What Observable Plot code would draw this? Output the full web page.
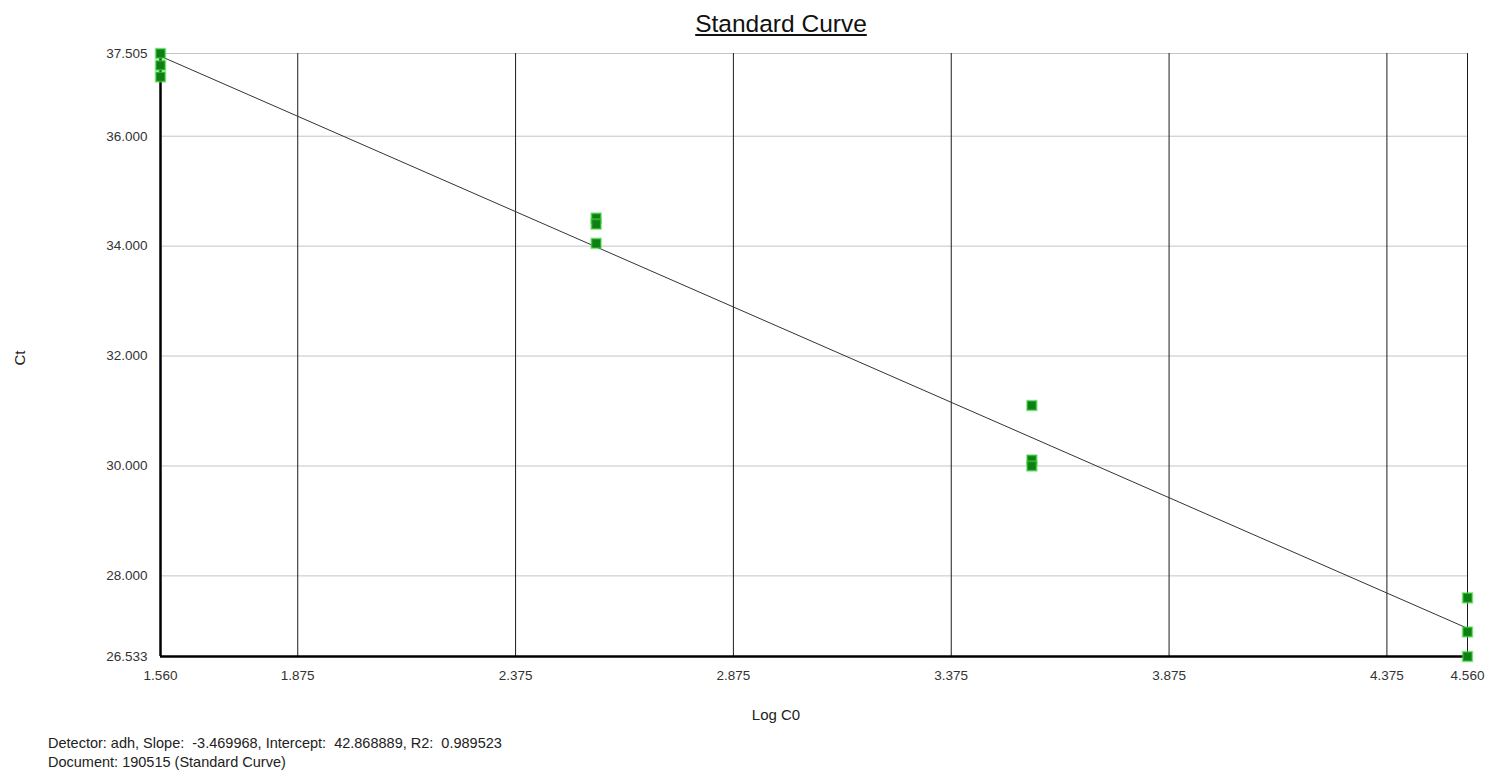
<!DOCTYPE html>
<html>
<head>
<meta charset="utf-8">
<script src="https://cdn.jsdelivr.net/npm/d3@7"></script>
<script src="https://cdn.jsdelivr.net/npm/@observablehq/plot@0.6"></script>
<style>
  html, body { margin: 0; padding: 0; background: #fff; }
  #wrap { position: relative; width: 1487px; height: 773px; font-family: "Liberation Sans", Arial, sans-serif; }
  #wrap svg { position: absolute; left: 0; top: 0; }
  .title { position: absolute; left: 781px; top: 12px; transform: translateX(-50%); font-size: 24.5px; line-height: 24px; text-decoration: underline; color: #111; white-space: nowrap; }
  .xlabel { position: absolute; left: 776px; top: 707px; transform: translateX(-50%); font-size: 15px; line-height: 15px; color: #222; }
  .ylabel { position: absolute; left: 19px; top: 358px; transform: translate(-50%, -50%) rotate(-90deg); font-size: 15px; line-height: 15px; color: #222; }
  .foot { position: absolute; left: 48px; top: 734px; font-size: 14.5px; line-height: 19px; color: #222; white-space: pre; }
</style>
</head>
<body>
<div id="wrap">
  <div class="title">Standard Curve</div>
  <div class="ylabel">Ct</div>
  <div class="xlabel">Log C0</div>
  <div class="foot" id="foot"></div>
</div>
<script>
// Standard samples: log of starting quantity and measured threshold cycle
const logC0 = [1.56, 1.56, 1.56, 2.56, 2.56, 2.56, 3.56, 3.56, 3.56, 4.56, 4.56, 4.56];
const ct    = [37.505, 37.29, 37.08, 34.51, 34.40, 34.05, 31.10, 30.11, 30.00, 27.60, 26.98, 26.533];

// Fit reported by the instrument
const detector = "adh";
const slope = -3.469968;
const intercept = 42.868889;
const r2 = 0.989523;
const documentName = "190515 (Standard Curve)";

// Axis ranges and tick labels
const xDomain = [1.56, 4.56];
const yDomain = [26.533, 37.505];
const xTicks = [1.56, 1.875, 2.375, 2.875, 3.375, 3.875, 4.375, 4.56];
const yTicks = [26.533, 28, 30, 32, 34, 36, 37.505];
const xGrid = [1.875, 2.375, 2.875, 3.375, 3.875, 4.375, 4.56];
const yGrid = [28, 30, 32, 34, 36, 37.505];

const points = logC0.map((x, i) => ({x, ct: ct[i]}));
const fitLine = xDomain.map(x => ({x, ct: intercept + slope * x}));

const fmt = d3.format(".3f");

const chart = Plot.plot({
  width: 1487,
  height: 773,
  marginTop: 53,
  marginBottom: 117,
  marginLeft: 160,
  marginRight: 20,
  style: {fontFamily: '"Liberation Sans", Arial, sans-serif', fontSize: "13.5px", color: "#333", background: "transparent"},
  x: {domain: xDomain, label: null},
  y: {domain: yDomain, label: null},
  marks: [
    Plot.ruleY(yGrid, {stroke: "#c4c4c4", strokeWidth: 1}),
    Plot.ruleX(xGrid, {stroke: "#1c1c1c", strokeWidth: 1}),
    Plot.ruleX([xDomain[0]], {stroke: "#000", strokeWidth: 2.5}),
    Plot.ruleY([yDomain[0]], {stroke: "#000", strokeWidth: 2.5}),
    Plot.line(fitLine, {x: "x", y: "ct", stroke: "#333", strokeWidth: 1}),
    Plot.dot(points, {x: "x", y: "ct", symbol: "square", r: 5.4, fill: "#0e7f12", stroke: "#46d846", strokeWidth: 2, strokeOpacity: 0.55}),
    Plot.axisX({ticks: xTicks, tickFormat: fmt, tickSize: 0, tickPadding: 14, label: null}),
    Plot.axisY({ticks: yTicks, tickFormat: fmt, tickSize: 0, tickPadding: 13, label: null})
  ]
});

document.getElementById("wrap").prepend(chart);
document.getElementById("foot").textContent =
  `Detector: ${detector}, Slope:  ${slope.toFixed(6)}, Intercept:  ${intercept.toFixed(6)}, R2:  ${r2.toFixed(6)}\nDocument: ${documentName}`;
</script>
</body>
</html>
